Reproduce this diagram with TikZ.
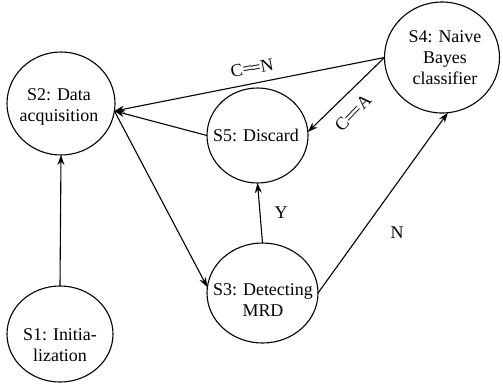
\documentclass[tikz,border=0pt]{standalone}
\usepackage{fontspec}
\setmainfont{Liberation Serif}
\usetikzlibrary{shapes.geometric,arrows.meta}
\newcommand{\dbleq}{=\kern-0.1em=}
\begin{document}
\begin{tikzpicture}[x=1bp,y=-1bp,
  state/.style={draw, ellipse, line width=1.1bp, inner sep=0pt, outer sep=0pt},
  stxt/.style={align=center, font=\fontsize{18}{21}\selectfont, inner sep=0pt},
  lbl/.style={font=\fontsize{18}{21}\selectfont, inner sep=0pt},
  arr/.style={line width=1.1bp, -{Stealth[length=10bp,width=7bp]}},
  ln/.style={line width=1.1bp}]
\useasboundingbox (0,0) rectangle (503,385);

% states
\node[state, minimum width=106bp, minimum height=96bp]  (S1) at (60,334) {};
\node[state, minimum width=108bp, minimum height=103bp] (S2) at (61,103.5) {};
\node[state, minimum width=111bp, minimum height=100bp] (S3) at (262.5,293) {};
\node[state, minimum width=115bp, minimum height=111bp] (S4) at (442,57.5) {};
\node[state, minimum width=101bp, minimum height=95bp]  (S5) at (257.5,135.5) {};

% state texts
\node[stxt] (t1) at (60,345)  {S1: Initia-\\lization};
\node[stxt] (t2) at (59,107)  {S2: Data\\acquisition};
\node[stxt] (t3) at (263,300) {S3: Detecting\\MRD};
\node[stxt] (t4) at (445,58)  {S4: Naive\\Bayes\\classifier};
\node[stxt] (t5) at (256,135) {S5: Discard};

% connection points
\coordinate (s2in) at (S2.-8);
\coordinate (s4out) at (S4.west);

% transitions
\draw[arr] (S1.north) -- (S2.south);
\draw[arr] (s4out) -- (s2in);
\draw[arr] (s4out) -- (S5.4);
\draw[arr] (S5.west) -- (s2in);
\draw[arr] (s2in) -- (S3.174);
\draw[arr] (S3.north) -- (S5.south);
\draw[arr] (S3.east) -- (S4.-84);

% transition labels
\node[lbl, rotate=10.8] (lcn) at (252,68)  {C\dbleq N};
\node[lbl, rotate=45]   (lca) at (353,113) {C\dbleq A};
\node[lbl]              (ly)  at (281,213) {Y};
\node[lbl]              (ln)  at (397,233) {N};
\end{tikzpicture}
\end{document}
